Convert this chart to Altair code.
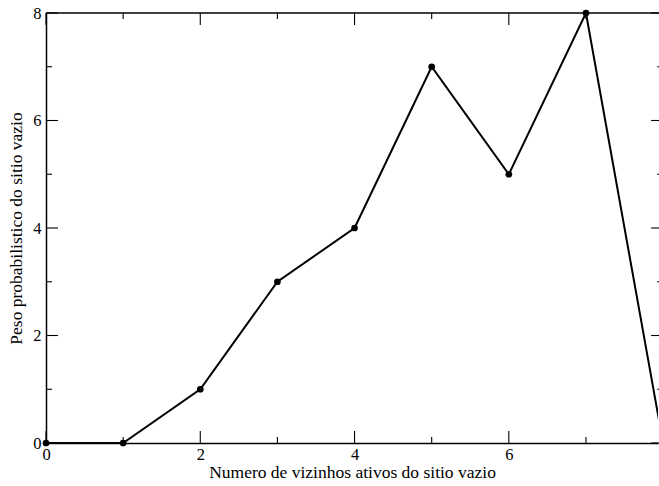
import altair as alt
import pandas as pd

vizinhos = [0, 1, 2, 3, 4, 5, 6, 7, 8]
peso = [0, 0, 1, 3, 4, 7, 5, 8, 0]
x_major = [0, 2, 4, 6]
x_minor = [1, 3, 5, 7]
y_major = [0, 2, 4, 6, 8]
y_minor = [1, 3, 5, 7]
x_title = "Numero de vizinhos ativos do sitio vazio"
y_title = "Peso probabilistico do sitio vazio"

df = pd.DataFrame({"x": vizinhos, "y": peso})

W, H = 612, 430
XMAX = 7.934
UNIT = W / XMAX
XR = 8 * UNIT  # position of the (cropped) right frame
FONT = "Liberation Serif"
LFS = 16.5
TFS = 17.5

xs = alt.Scale(domain=[0, XMAX], nice=False, zero=False)
ys = alt.Scale(domain=[0, 8], nice=False, zero=False)

line = alt.Chart(df).mark_line(color="black", strokeWidth=2, clip=True).encode(
    x=alt.X("x:Q", scale=xs, axis=alt.Axis(
        orient="bottom", values=x_major, ticks=False, labelPadding=3,
        labelFont=FONT, labelFontSize=LFS, labelColor="black", labelFlush=False,
        title=x_title, titleFont=FONT, titleFontSize=TFS, titleFontWeight="normal",
        titleColor="black", titlePadding=1, domain=True, domainColor="black",
        domainWidth=1.5, grid=False, format="d")),
    y=alt.Y("y:Q", scale=ys, axis=alt.Axis(
        orient="left", values=y_major, ticks=False, labelPadding=5,
        labelFont=FONT, labelFontSize=LFS, labelColor="black", labelFlush=False,
        labelBaseline="middle",
        title=y_title, titleFont=FONT, titleFontSize=TFS, titleFontWeight="normal",
        titleColor="black", titlePadding=7, domain=True, domainColor="black",
        domainWidth=1.5, grid=False, format="d")),
)

points = alt.Chart(df).mark_circle(color="black", size=45, opacity=1).encode(
    x=alt.X("x:Q", scale=xs, axis=None),
    y=alt.Y("y:Q", scale=ys, axis=None),
).transform_filter(alt.datum.x <= XMAX)


def xticks(vals, y0, y1):
    return alt.Chart(pd.DataFrame({"t": vals})).mark_rule(
        color="black", strokeWidth=1.1).encode(
        x=alt.X("t:Q", scale=xs, axis=None),
        y=alt.value(y0), y2=alt.value(y1))


def yticks(vals, x0, x1):
    return alt.Chart(pd.DataFrame({"t": vals})).mark_rule(
        color="black", strokeWidth=1.1).encode(
        y=alt.Y("t:Q", scale=ys, axis=None),
        x=alt.value(x0), x2=alt.value(x1))


MAJ, MIN = 12, 6
ticks = [
    xticks(x_major, H, H - MAJ), xticks(x_major, 0, MAJ),
    xticks(x_minor, H, H - MIN), xticks(x_minor, 0, MIN),
    yticks(y_major, 0, MAJ), yticks(y_major, XR, XR - MAJ),
    yticks(y_minor, 0, MIN), yticks(y_minor, XR, XR - MIN),
]

top_frame = alt.Chart(pd.DataFrame({"a": [0]})).mark_rule(
    color="black", strokeWidth=1.5).encode(
    x=alt.value(0), x2=alt.value(XR), y=alt.value(0))

chart = alt.layer(line, *ticks, top_frame, points).resolve_axis(
    x="independent", y="independent"
).properties(
    width=W, height=H,
    autosize=alt.AutoSizeParams(type="none"),
    padding={"left": 46, "top": 13, "right": 1, "bottom": 43},
    background="white",
).configure_view(strokeWidth=0)

chart.save("out.html", embed_options={"renderer": "svg", "actions": False})
